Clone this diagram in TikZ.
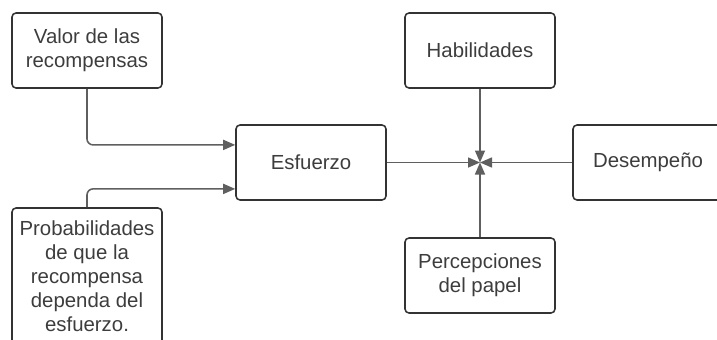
\documentclass[tikz,border=0pt]{standalone}
\usepackage{fontspec}
\setmainfont{Liberation Sans}
\usetikzlibrary{arrows.meta}
\definecolor{boxline}{HTML}{333333}
\definecolor{linkline}{HTML}{5F5F5F}
\definecolor{textgray}{HTML}{3D3D3D}

\begin{document}
\begin{tikzpicture}[
        box/.style={draw=boxline, line width=1.1pt, rounded corners=0.1cm, minimum width=3.75cm, minimum height=1.875cm, align=center, text=textgray, font=\fontsize{14.5}{17.1}\selectfont},
        link/.style={draw=linkline, line width=1.1pt, ->, >={Triangle[length=0.3cm,width=0.25cm]}, rounded corners=0.15cm}]
        \clip (0,0) rectangle (17.925,8.475);

        \node[box] (1) at (2.175,7.2125) {Valor de las\\recompensas};
        \node[box, minimum height=3.4cm] (2) at (2.175,1.575) {Probabilidades\\de que la\\recompensa\\dependa del\\esfuerzo.};
        \node[box] (3) at (7.775,4.4125) {Esfuerzo};
        \node[box] (4) at (12,7.2125) {Habilidades};
        \node[box] (5) at (12,1.5875) {Percepciones\\del papel};
        \node[box] (6) at (16.2,4.4125) {Desempeño};
        \coordinate (7) at (12,4.4125);

        \draw[link] (1.south) |- ([yshift=0.44cm]3.west);
        \draw[link] (2.north) |- ([yshift=-0.66cm]3.west);
        \draw[link] (3) -- (7);
        \draw[link] (4) -- (7);
        \draw[link] (5) -- (7);
        \draw[link] (6) -- (7);
      \end{tikzpicture}
\end{document}
